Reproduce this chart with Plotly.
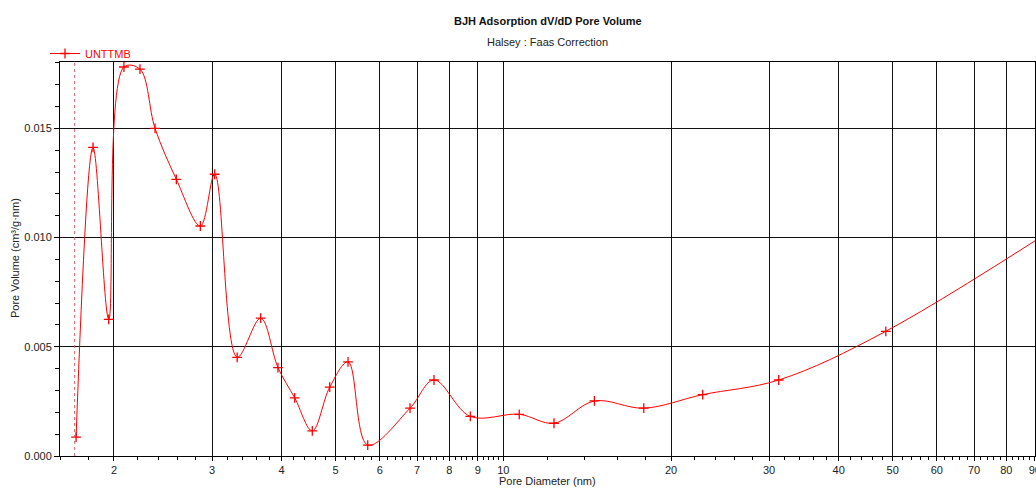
import math
import plotly.graph_objects as go

# Data
pore_diameter_nm = [1.710, 1.834, 1.957, 2.084, 2.227, 2.370, 2.588, 2.858, 3.033,
                    3.328, 3.668, 3.939, 4.222, 4.540, 4.879, 5.263, 5.709, 6.800,
                    7.508, 8.725, 10.68, 12.33, 14.57, 17.87, 22.80, 31.22, 48.60, 115.0]
pore_volume = [0.00086, 0.01413, 0.00626, 0.01781, 0.01771, 0.01500, 0.01267, 0.01053, 0.01290,
               0.00452, 0.00631, 0.00405, 0.00266, 0.00115, 0.00315, 0.00431, 0.00050, 0.00219,
               0.00348, 0.00181, 0.00191, 0.00150, 0.00252, 0.00219, 0.00281, 0.00348, 0.00571, 0.01160]
series_name = "UNTTMB"
lower_limit_nm = 1.70

title_text = "BJH Adsorption dV/dD Pore Volume"
subtitle_text = "Halsey : Faas Correction"
x_title = "Pore Diameter (nm)"
y_title = "Pore Volume (cm³/g·nm)"

x_tick_vals = [2, 3, 4, 5, 6, 7, 8, 9, 10, 20, 30, 40, 50, 60, 70, 80, 90]
x_tick_text = ["2", "3", "4", "5", "6", "7", "8", "9", "10", "20", "30", "40", "50", "60", "70", "80", "90"]
x_minor_vals = ([round(1.6 + 0.2 * i, 1) for i in range(43) if round(1.6 + 0.2 * i, 1) % 1 != 0]
                + [v for v in range(12, 91, 2) if v % 10 != 0])
y_tick_vals = [0.0, 0.005, 0.010, 0.015]
y_tick_text = ["0.000", "0.005", "0.010", "0.015"]
y_minor_vals = [round(0.001 * i, 3) for i in range(19) if i % 5 != 0]

FONT = "Liberation Sans, Arial, sans-serif"
RED = "#ff0000"
W, H = 1036, 488
PW, PH = 975, 394
ML, MT = 60, 62
MR, MB = W - ML - PW, H - MT - PH


def px_x(sx):
    return (sx - ML) / PW


def px_y(sy):
    return (MT + PH - sy) / PH


fig = go.Figure()
fig.add_trace(go.Scatter(
    x=pore_diameter_nm, y=pore_volume, name=series_name,
    mode="lines+markers",
    line=dict(color=RED, width=1, shape="spline", smoothing=1),
    marker=dict(symbol="cross-thin", size=7, color=RED, line=dict(color=RED, width=1.3)),
))

fig.add_shape(type="line", xref="x", yref="paper", x0=lower_limit_nm, x1=lower_limit_nm, y0=0, y1=1,
              line=dict(color="#d06060", width=1, dash="dot"))

fig.add_annotation(text="<b>" + title_text + "</b>", xref="paper", yref="paper",
                   x=0.5, y=px_y(21), xanchor="center", yanchor="middle", showarrow=False,
                   font=dict(family=FONT, size=11, color="#111"))
fig.add_annotation(text=subtitle_text, xref="paper", yref="paper",
                   x=0.5, y=px_y(42), xanchor="center", yanchor="middle", showarrow=False,
                   font=dict(family=FONT, size=11, color="#222"))
fig.add_annotation(text=x_title, xref="paper", yref="paper",
                   x=0.5, y=px_y(481), xanchor="center", yanchor="middle", showarrow=False,
                   font=dict(family=FONT, size=11, color="#222"))
fig.add_annotation(text=y_title, xref="paper", yref="paper", textangle=-90,
                   x=px_x(15), y=px_y(258), xanchor="center", yanchor="middle",
                   showarrow=False, font=dict(family=FONT, size=11, color="#222"))

fig.update_layout(
    width=W, height=H,
    margin=dict(l=ML, r=MR, t=MT, b=MB, autoexpand=False),
    paper_bgcolor="white", plot_bgcolor="white",
    font=dict(family=FONT, size=11, color="#222"),
    showlegend=True,
    legend=dict(x=-0.0154, y=px_y(68), xanchor="left", yanchor="bottom", orientation="h",
                font=dict(family=FONT, size=11, color=RED), itemwidth=30,
                bgcolor="rgba(0,0,0,0)"),
)

fig.update_xaxes(
    type="log", range=[math.log10(1.6), math.log10(90.05)], automargin=False,
    tickvals=x_tick_vals, ticktext=x_tick_text, ticklabeloverflow="allow",
    ticks="outside", ticklen=4, tickcolor="black", tickwidth=1,
    showgrid=True, gridcolor="#111", gridwidth=1,
    showline=True, linecolor="black", linewidth=1, mirror=True,
    tickfont=dict(family=FONT, size=11, color="#222"),
    minor=dict(tickvals=x_minor_vals, ticks="outside", ticklen=3, tickcolor="black", showgrid=False),
    zeroline=False,
)
fig.update_yaxes(
    range=[0, 0.01804], automargin=False,
    tickvals=y_tick_vals, ticktext=y_tick_text, ticklabeloverflow="allow",
    ticks="outside", ticklen=5, tickcolor="black", tickwidth=1,
    showgrid=True, gridcolor="#111", gridwidth=1,
    showline=True, linecolor="black", linewidth=1, mirror=True,
    tickfont=dict(family=FONT, size=11, color="#222"),
    minor=dict(tickvals=y_minor_vals, ticks="outside", ticklen=4, tickcolor="black", showgrid=False),
    zeroline=False,
)

fig.write_html("out.html", config={"displayModeBar": False},
               post_script="document.body.style.margin='0';document.body.style.overflow='hidden';"
                           "document.documentElement.style.overflow='hidden';")
